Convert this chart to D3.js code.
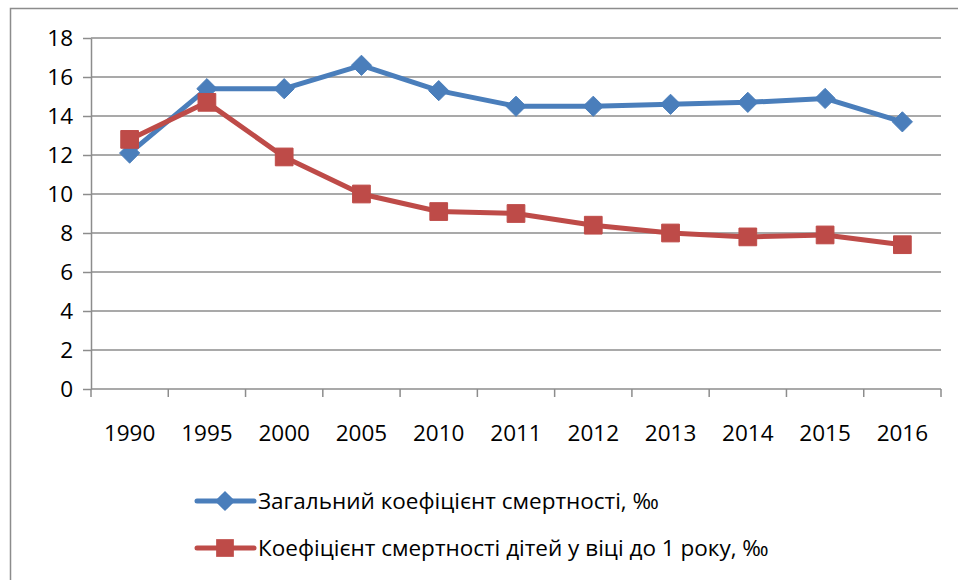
<!DOCTYPE html>
<html>
<head>
<meta charset="utf-8">
<script src="https://cdn.jsdelivr.net/npm/d3@7"></script>
<style>
  body { margin: 0; background: #fff; }
  svg { display: block; font-family: 'Open Sans', sans-serif; }
</style>
</head>
<body>
<div id="chart"></div>
<script>
const years = ['1990', '1995', '2000', '2005', '2010', '2011', '2012', '2013', '2014', '2015', '2016']
const generalRate = [12.1, 15.4, 15.4, 16.6, 15.3, 14.5, 14.5, 14.6, 14.7, 14.9, 13.7]
const infantRate = [12.8, 14.7, 11.9, 10.0, 9.1, 9.0, 8.4, 8.0, 7.8, 7.9, 7.4]
const yTicks = [0, 2, 4, 6, 8, 10, 12, 14, 16, 18]
const seriesNames = [
  'Загальний коефіцієнт смертності, ‰',
  'Коефіцієнт смертності дітей у віці до 1 року, ‰',
]

const width = 958
const height = 580
const blue = '#4a7ebb'
const red = '#be4b48'
const gridColor = '#8c8c8c'

const svg = d3.select('#chart')
  .append('svg')
  .attr('width', width)
  .attr('height', height)

// outer chart border (runs off the right/bottom edge)
svg.append('rect')
  .attr('x', 10.5).attr('y', 8.5)
  .attr('width', 1000).attr('height', 1000)
  .attr('fill', 'none')
  .attr('stroke', '#8c8c8c')
  .attr('stroke-width', 1.5)

const plotLeft = 91
const plotRight = 941
const plotTop = 38
const plotBottom = 389

const x = d3.scaleBand().domain(years).range([plotLeft, plotRight])
const y = d3.scaleLinear().domain([0, 18]).range([plotBottom, plotTop])

// gridlines
svg.append('g')
  .selectAll('line')
  .data(yTicks.filter(d => d > 0))
  .join('line')
  .attr('x1', plotLeft).attr('x2', plotRight)
  .attr('y1', d => y(d)).attr('y2', d => y(d))
  .attr('stroke', gridColor)
  .attr('stroke-width', 1.5)

// y axis
const yAxis = svg.append('g')
  .attr('transform', `translate(${plotLeft},0)`)
  .call(d3.axisLeft(y).tickValues(yTicks).tickSize(8).tickPadding(10).tickSizeOuter(0))
yAxis.select('.domain').attr('stroke', gridColor).attr('stroke-width', 1.5)
yAxis.selectAll('.tick line').attr('stroke', gridColor).attr('stroke-width', 1.5)
yAxis.selectAll('.tick text')
  .attr('font-size', 22.5)
  .attr('fill', '#000')
  .attr('font-family', 'Open Sans, sans-serif')

// x axis with ticks between categories
const xAxisG = svg.append('g').attr('transform', `translate(0,${plotBottom})`)
xAxisG.append('line')
  .attr('x1', plotLeft).attr('x2', plotRight)
  .attr('stroke', gridColor).attr('stroke-width', 1.5)
const boundaries = years.map(d => x(d)).concat([plotRight])
xAxisG.selectAll('line.tk')
  .data(boundaries)
  .join('line')
  .attr('class', 'tk')
  .attr('x1', d => d).attr('x2', d => d)
  .attr('y1', 0).attr('y2', 8)
  .attr('stroke', gridColor).attr('stroke-width', 1.5)
xAxisG.selectAll('text')
  .data(years)
  .join('text')
  .attr('x', d => x(d) + x.bandwidth() / 2)
  .attr('y', 52)
  .attr('text-anchor', 'middle')
  .attr('font-size', 22.5)
  .text(d => d)

const cx = (d, i) => x(years[i]) + x.bandwidth() / 2
const line = d3.line().x((d, i) => cx(d, i)).y(d => y(d))

const diamond = d3.symbol().type(d3.symbolDiamond2).size(260)
const square = d3.symbol().type(d3.symbolSquare2).size(400)

// general mortality
svg.append('path')
  .datum(generalRate)
  .attr('d', line)
  .attr('fill', 'none')
  .attr('stroke', blue)
  .attr('stroke-width', 5)
  .attr('stroke-linejoin', 'round')
svg.append('g')
  .selectAll('path')
  .data(generalRate)
  .join('path')
  .attr('transform', (d, i) => `translate(${cx(d, i)},${y(d)})`)
  .attr('d', diamond)
  .attr('fill', blue)
  .attr('stroke', blue)
  .attr('stroke-width', 1)

// infant mortality
svg.append('path')
  .datum(infantRate)
  .attr('d', line)
  .attr('fill', 'none')
  .attr('stroke', red)
  .attr('stroke-width', 5)
  .attr('stroke-linejoin', 'round')
svg.append('g')
  .selectAll('path')
  .data(infantRate)
  .join('path')
  .attr('transform', (d, i) => `translate(${cx(d, i)},${y(d)})`)
  .attr('d', square)
  .attr('fill', red)
  .attr('stroke', red)
  .attr('stroke-width', 1)

// legend
const legend = svg.append('g')
const legendItems = [
  { name: seriesNames[0], color: blue, sym: diamond, y: 501 },
  { name: seriesNames[1], color: red, sym: square, y: 548 },
]
legendItems.forEach(item => {
  legend.append('line')
    .attr('x1', 197).attr('x2', 254)
    .attr('y1', item.y).attr('y2', item.y)
    .attr('stroke', item.color).attr('stroke-width', 5)
    .attr('stroke-linecap', 'round')
  legend.append('path')
    .attr('transform', `translate(225,${item.y})`)
    .attr('d', item.sym)
    .attr('fill', item.color)
  legend.append('text')
    .attr('x', 258)
    .attr('y', item.y)
    .attr('dy', '0.35em')
    .attr('font-size', 22.5)
    .text(item.name)
})
</script>
</body>
</html>
